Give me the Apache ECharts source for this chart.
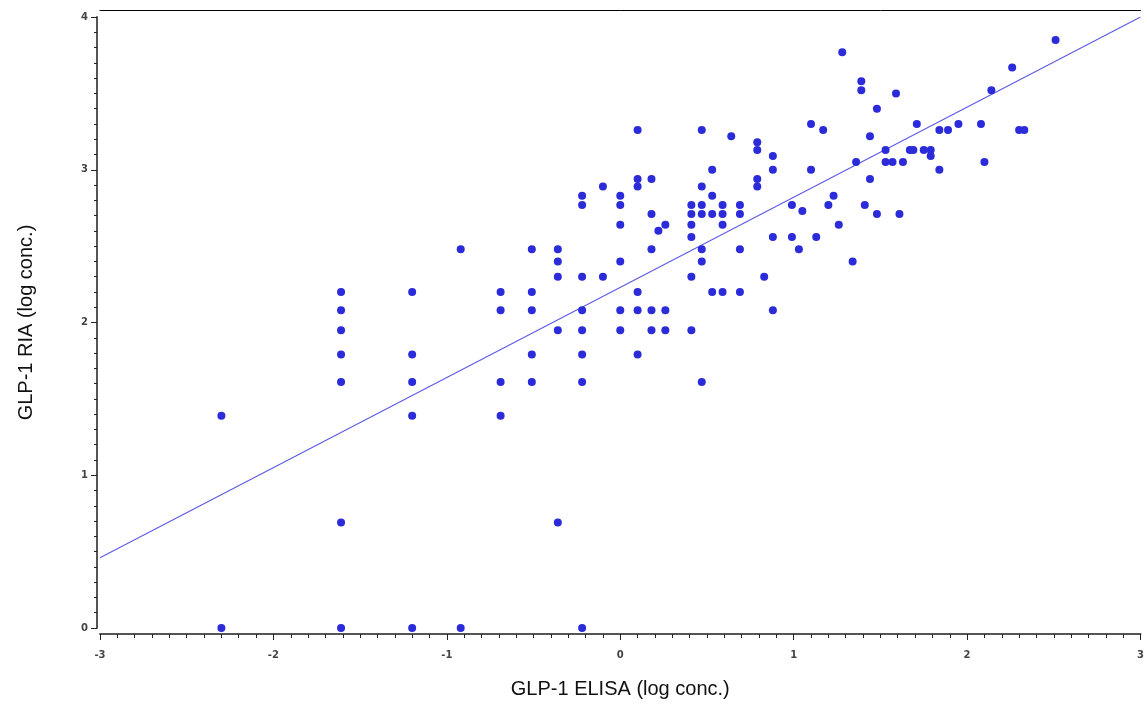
<!DOCTYPE html>
<html>
<head>
<meta charset="utf-8">
<title>GLP-1 ELISA vs RIA</title>
<script src="https://cdn.jsdelivr.net/npm/echarts@6/dist/echarts.min.js"></script>
<style>
  html, body { margin: 0; padding: 0; background: #fff; }
  #chart { width: 1147px; height: 704px; }
</style>
</head>
<body>
<div id="chart"></div>
<script>
// GLP-1 measured by ELISA (x) and by RIA (y), natural log of concentration
const elisaLog = [
  -2.30, -2.30,
  -1.61, -1.61, -1.61, -1.61, -1.61, -1.61, -1.61,
  -1.20, -1.20, -1.20, -1.20, -1.20,
  -0.92, -0.92,
  -0.69, -0.69, -0.69, -0.69,
  -0.51, -0.51, -0.51, -0.51, -0.51,
  -0.36, -0.36, -0.36, -0.36, -0.36,
  -0.22, -0.22, -0.22, -0.22, -0.22, -0.22, -0.22, -0.22,
  -0.10, -0.10,
  0.00, 0.00, 0.00, 0.00, 0.00, 0.00,
  0.10, 0.10, 0.10, 0.10, 0.10, 0.10,
  0.18, 0.18, 0.18, 0.18, 0.18,
  0.22,
  0.26, 0.26, 0.26,
  0.41, 0.41, 0.41, 0.41, 0.41, 0.41,
  0.47, 0.47, 0.47, 0.47, 0.47, 0.47, 0.47,
  0.53, 0.53, 0.53, 0.53,
  0.59, 0.59, 0.59, 0.59,
  0.64,
  0.69, 0.69, 0.69, 0.69,
  0.79, 0.79, 0.79, 0.79,
  0.83,
  0.88, 0.88, 0.88, 0.88,
  0.99, 0.99,
  1.03, 1.05,
  1.10, 1.10,
  1.13, 1.17, 1.20, 1.23, 1.26, 1.28, 1.34, 1.36,
  1.39, 1.39,
  1.41,
  1.44, 1.44,
  1.48, 1.48,
  1.53, 1.53,
  1.57, 1.59, 1.61, 1.63, 1.67, 1.69, 1.71, 1.75,
  1.79, 1.79,
  1.84, 1.84,
  1.89, 1.95, 2.08, 2.10, 2.14, 2.26, 2.30, 2.33, 2.51
];

const riaLog = [
  1.39, 0.00,
  2.20, 2.08, 1.95, 1.79, 1.61, 0.69, 0.00,
  2.20, 1.79, 1.61, 1.39, 0.00,
  2.48, 0.00,
  2.20, 2.08, 1.61, 1.39,
  2.48, 2.20, 2.08, 1.79, 1.61,
  2.48, 2.40, 2.30, 1.95, 0.69,
  2.83, 2.77, 2.30, 2.08, 1.95, 1.79, 1.61, 0.00,
  2.89, 2.30,
  2.83, 2.77, 2.64, 2.40, 2.08, 1.95,
  3.26, 2.94, 2.89, 2.20, 2.08, 1.79,
  2.94, 2.71, 2.48, 2.08, 1.95,
  2.60,
  2.64, 2.08, 1.95,
  2.77, 2.71, 2.64, 2.56, 2.30, 1.95,
  3.26, 2.89, 2.77, 2.71, 2.48, 2.40, 1.61,
  3.00, 2.83, 2.71, 2.20,
  2.77, 2.71, 2.64, 2.20,
  3.22,
  2.77, 2.71, 2.48, 2.20,
  3.18, 3.13, 2.94, 2.89,
  2.30,
  3.09, 3.00, 2.56, 2.08,
  2.77, 2.56,
  2.48, 2.73,
  3.30, 3.00,
  2.56, 3.26, 2.77, 2.83, 2.64, 3.77, 2.40, 3.05,
  3.58, 3.52,
  2.77,
  3.22, 2.94,
  3.40, 2.71,
  3.13, 3.05,
  3.05, 3.50, 2.71, 3.05, 3.13, 3.13, 3.30, 3.13,
  3.13, 3.09,
  3.26, 3.00,
  3.26, 3.30, 3.30, 3.05, 3.52, 3.67, 3.26, 3.26, 3.85
];

// fitted regression line: RIA = intercept + slope * ELISA
const fitIntercept = 2.23;
const fitSlope = 0.59;

// axis ranges and tick labels
const xRange = [-3, 3];
const yRange = [0, 4];
const xTickLabels = ['-3', '-2', '-1', '0', '1', '2', '3'];
const yTickLabels = ['0', '1', '2', '3', '4'];

const points = elisaLog.map((x, i) => [x, riaLog[i]]);
const fitLine = xRange.map(x => [x, fitIntercept + fitSlope * x]);

const tickFont = { fontFamily: 'DejaVu Sans', fontSize: 10, fontWeight: 'bold', color: '#444' };
const nameFont = { fontFamily: 'Liberation Sans, Arial, sans-serif', fontSize: 20, color: '#111' };

const chart = echarts.init(document.getElementById('chart'), null, { renderer: 'canvas' });
chart.setOption({
  animation: false,
  backgroundColor: '#ffffff',
  grid: { left: 100, right: 4, top: 17, bottom: 73, containLabel: false },
  xAxis: [
    {
      type: 'value',
      min: xRange[0], max: xRange[1], interval: 1,
      offset: 6,
      name: 'GLP-1 ELISA (log conc.)',
      nameLocation: 'middle',
      nameGap: 45,
      nameTextStyle: nameFont,
      axisLine: { show: true, onZero: false, lineStyle: { color: '#555', width: 2 } },
      axisTick: { show: true, inside: false, length: 6, lineStyle: { color: '#222', width: 1 } },
      minorTick: { show: true, splitNumber: 10, length: 4, lineStyle: { color: '#222', width: 1 } },
      axisLabel: Object.assign({ margin: 16, formatter: v => xTickLabels[Math.round(v - xRange[0])] }, tickFont),
      splitLine: { show: false }
    },
    {
      type: 'value',
      position: 'top',
      min: xRange[0], max: xRange[1], interval: 1,
      offset: 7,
      axisLine: { show: true, onZero: false, lineStyle: { color: '#000', width: 1 } },
      axisTick: { show: false },
      axisLabel: { show: false },
      splitLine: { show: false }
    }
  ],
  yAxis: {
    type: 'value',
    min: yRange[0], max: yRange[1], interval: 1,
    offset: 3,
    name: 'GLP-1 RIA (log conc.)',
    nameLocation: 'middle',
    nameGap: 61,
    nameTextStyle: nameFont,
    axisLine: { show: true, onZero: false, lineStyle: { color: '#555', width: 2 } },
    axisTick: { show: true, inside: false, length: 6, lineStyle: { color: '#222', width: 1 } },
    minorTick: { show: true, splitNumber: 10, length: 3, lineStyle: { color: '#222', width: 1 } },
    axisLabel: Object.assign({ margin: 9, formatter: v => yTickLabels[Math.round(v - yRange[0])] }, tickFont),
    splitLine: { show: false }
  },
  series: [
    {
      type: 'line',
      data: fitLine,
      xAxisIndex: 0,
      showSymbol: false,
      symbol: 'none',
      lineStyle: { color: '#5a5ae6', width: 1.1 },
      z: 1
    },
    {
      type: 'scatter',
      data: points,
      xAxisIndex: 0,
      symbol: 'circle',
      symbolSize: 8,
      itemStyle: { color: '#2b2bd9', opacity: 1 },
      z: 2
    }
  ]
});
</script>
</body>
</html>
